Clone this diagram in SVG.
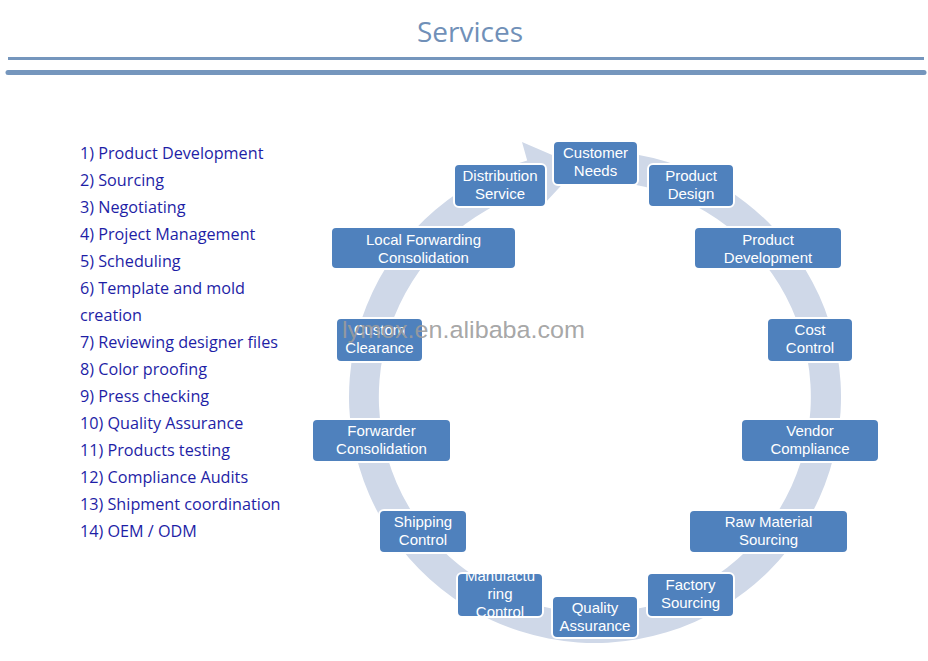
<svg xmlns="http://www.w3.org/2000/svg" width="928" height="661" viewBox="0 0 928 661">
<style>
.title{font-family:"Open Sans","Noto Sans",sans-serif;font-size:28px;fill:#7090b8;text-anchor:middle}
.list{font-family:"Open Sans","Noto Sans",sans-serif;font-size:16.2px;fill:#1e1ea6}
.box{fill:#4f81bd;stroke:#ffffff;stroke-width:2}
.lbl{font-family:"Liberation Sans",Arial,sans-serif;font-size:15px;fill:#ffffff;text-anchor:middle}
.wm{font-family:"Liberation Sans",Arial,sans-serif;font-size:24.5px;fill:#9c9c9c;fill-opacity:0.9}
</style>
<defs>
<clipPath id="mclip"><rect x="458" y="574" width="84" height="42" rx="5"/></clipPath>
</defs>
<rect width="928" height="661" fill="#ffffff"/>
<text class="title" x="470" y="42">Services</text>
<line x1="8" y1="58.5" x2="924" y2="58.5" stroke="#7596bd" stroke-width="3"/>
<line x1="8" y1="72.5" x2="924" y2="72.5" stroke="#7596bd" stroke-width="5" stroke-linecap="round"/>

<g id="service-list">
<text class="list" x="80" y="159">1) Product Development</text>
<text class="list" x="80" y="186">2) Sourcing</text>
<text class="list" x="80" y="213">3) Negotiating</text>
<text class="list" x="80" y="240">4) Project Management</text>
<text class="list" x="80" y="267">5) Scheduling</text>
<text class="list" x="80" y="294">6) Template and mold</text>
<text class="list" x="80" y="321">creation</text>
<text class="list" x="80" y="348">7) Reviewing designer files</text>
<text class="list" x="80" y="375">8) Color proofing</text>
<text class="list" x="80" y="402">9) Press checking</text>
<text class="list" x="80" y="429">10) Quality Assurance</text>
<text class="list" x="80" y="456">11) Products testing</text>
<text class="list" x="80" y="483">12) Compliance Audits</text>
<text class="list" x="80" y="510">13) Shipment coordination</text>
<text class="list" x="80" y="537">14) OEM / ODM</text>
</g>

<g id="connectors">
<path d="M637.7,154.7 A246,246 0 1 1 527.2,160.5 L522,142 L578.9,166.6 L540.8,207.6 L535.5,189.3 A216,216 0 1 0 632.5,184.3 Z" fill="#cfd8e8"/>
</g>

<g id="customer-needs"><rect class="box" x="553" y="141" width="85" height="44" rx="5"/><text class="lbl" x="595.5" y="158">Customer</text><text class="lbl" x="595.5" y="176">Needs</text></g>
<g id="product-design"><rect class="box" x="648" y="164" width="86" height="43" rx="5"/><text class="lbl" x="691" y="181">Product</text><text class="lbl" x="691" y="199">Design</text></g>
<g id="distribution-service"><rect class="box" x="454" y="164" width="92" height="43" rx="5"/><text class="lbl" x="500" y="181">Distribution</text><text class="lbl" x="500" y="199">Service</text></g>
<g id="local-forwarding"><rect class="box" x="331" y="227" width="185" height="42" rx="5"/><text class="lbl" x="423.5" y="245">Local Forwarding</text><text class="lbl" x="423.5" y="263">Consolidation</text></g>
<g id="product-development"><rect class="box" x="694" y="227" width="148" height="42" rx="5"/><text class="lbl" x="768" y="245">Product</text><text class="lbl" x="768" y="263">Development</text></g>
<g id="custom-clearance"><rect class="box" x="336" y="318" width="87" height="44" rx="5"/><text class="lbl" x="379.5" y="335">Custom</text><text class="lbl" x="379.5" y="353">Clearance</text></g>
<g id="cost-control"><rect class="box" x="767" y="318" width="86" height="44" rx="5"/><text class="lbl" x="810" y="335">Cost</text><text class="lbl" x="810" y="353">Control</text></g>
<g id="forwarder-consolidation"><rect class="box" x="312" y="419" width="139" height="43" rx="5"/><text class="lbl" x="381.5" y="436">Forwarder</text><text class="lbl" x="381.5" y="454">Consolidation</text></g>
<g id="vendor-compliance"><rect class="box" x="741" y="419" width="138" height="43" rx="5"/><text class="lbl" x="810" y="436">Vendor</text><text class="lbl" x="810" y="454">Compliance</text></g>
<g id="shipping-control"><rect class="box" x="379" y="510" width="88" height="43" rx="5"/><text class="lbl" x="423" y="527">Shipping</text><text class="lbl" x="423" y="545">Control</text></g>
<g id="raw-material-sourcing"><rect class="box" x="689" y="510" width="159" height="43" rx="5"/><text class="lbl" x="768.5" y="527">Raw Material</text><text class="lbl" x="768.5" y="545">Sourcing</text></g>
<g id="manufacturing-control"><rect class="box" x="457" y="573" width="86" height="44" rx="5"/><g clip-path="url(#mclip)"><text class="lbl" x="500" y="581">Manufactu</text><text class="lbl" x="500" y="599">ring</text><text class="lbl" x="500" y="617">Control</text></g></g>
<g id="quality-assurance"><rect class="box" x="552" y="596" width="86" height="42" rx="5"/><text class="lbl" x="595" y="613">Quality</text><text class="lbl" x="595" y="631">Assurance</text></g>
<g id="factory-sourcing"><rect class="box" x="647" y="573" width="87" height="44" rx="5"/><text class="lbl" x="690.5" y="590">Factory</text><text class="lbl" x="690.5" y="608">Sourcing</text></g>

<text class="wm" x="342" y="338" textLength="243" lengthAdjust="spacingAndGlyphs">lymox.en.alibaba.com</text>
</svg>
